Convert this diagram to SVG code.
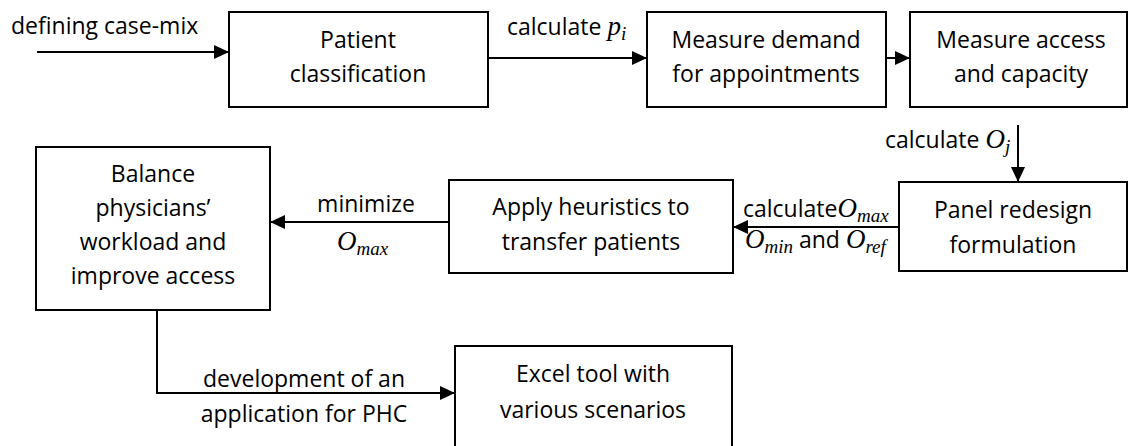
<svg xmlns="http://www.w3.org/2000/svg" width="1128" height="446" viewBox="0 0 1128 446">
<style>
.box{fill:#fff;stroke:#000;stroke-width:2}
.t{font-family:"Open Sans","Liberation Sans",sans-serif;font-size:23px;fill:#000}
.c{text-anchor:middle}
.m{font-family:"Liberation Serif","DejaVu Serif",serif;font-style:italic;font-size:27px}
.s{font-family:"Liberation Serif","DejaVu Serif",serif;font-style:italic;font-size:19px}
.ln{fill:none;stroke:#000;stroke-width:2}
</style>
<defs>
<marker id="ah" markerUnits="userSpaceOnUse" markerWidth="16" markerHeight="14" refX="15" refY="7" orient="auto">
<path d="M0,0 L15,7 L0,14 Z" fill="#000"/>
</marker>
</defs>
<g id="connectors">
<line class="ln" x1="37" y1="52" x2="229" y2="52" marker-end="url(#ah)"/>
<line class="ln" x1="488" y1="58" x2="647" y2="58" marker-end="url(#ah)"/>
<line class="ln" x1="886" y1="58" x2="910" y2="58" marker-end="url(#ah)"/>
<line class="ln" x1="1018" y1="125" x2="1018" y2="182" marker-end="url(#ah)"/>
<line class="ln" x1="899" y1="227" x2="733" y2="227" marker-end="url(#ah)"/>
<line class="ln" x1="449" y1="222" x2="270" y2="222" marker-end="url(#ah)"/>
<polyline class="ln" points="157,310 157,393 455,393" marker-end="url(#ah)"/>
<text class="t" x="11" y="34">defining case-mix</text>
<text class="t" x="507" y="35">calculate <tspan class="m">p</tspan><tspan class="s" dy="5">i</tspan></text>
<text class="t" x="885" y="148">calculate <tspan class="m">O</tspan><tspan class="s" dy="5">j</tspan></text>
<text class="t" x="743" y="217">calculate<tspan class="m">O</tspan><tspan class="s" dy="5">max</tspan></text>
<text class="t" x="745" y="248"><tspan class="m">O</tspan><tspan class="s" dy="5">min</tspan><tspan dy="-5"> and </tspan><tspan class="m">O</tspan><tspan class="s" dy="5">ref</tspan></text>
<text class="t c" x="366" y="212">minimize</text>
<text class="t" x="337" y="250"><tspan class="m">O</tspan><tspan class="s" dy="5">max</tspan></text>
<text class="t c" x="304" y="387">development of an</text>
<text class="t c" x="304" y="422">application for PHC</text>
</g>
<g id="n1">
<rect class="box" x="229" y="12" width="259" height="95"/>
<text class="t c" x="358" y="48">Patient</text>
<text class="t c" x="358" y="82">classification</text>
</g>
<g id="n2">
<rect class="box" x="647" y="12" width="239" height="95"/>
<text class="t c" x="766" y="48">Measure demand</text>
<text class="t c" x="766" y="82">for appointments</text>
</g>
<g id="n3">
<rect class="box" x="910" y="12" width="217" height="95"/>
<text class="t c" x="1021" y="48">Measure access</text>
<text class="t c" x="1021" y="82">and capacity</text>
</g>
<g id="n4">
<rect class="box" x="899" y="182" width="228" height="89"/>
<text class="t c" x="1013" y="218">Panel redesign</text>
<text class="t c" x="1013" y="253">formulation</text>
</g>
<g id="n5">
<rect class="box" x="449" y="180" width="284" height="93"/>
<text class="t c" x="591" y="215">Apply heuristics to</text>
<text class="t c" x="591" y="250">transfer patients</text>
</g>
<g id="n6">
<rect class="box" x="36" y="147" width="234" height="163"/>
<text class="t c" x="153" y="182">Balance</text>
<text class="t c" x="153" y="216">physicians’</text>
<text class="t c" x="153" y="250">workload and</text>
<text class="t c" x="153" y="284">improve access</text>
</g>
<g id="n7">
<rect class="box" x="455" y="346" width="277" height="104"/>
<text class="t c" x="593" y="382">Excel tool with</text>
<text class="t c" x="593" y="418">various scenarios</text>
</g>
</svg>
